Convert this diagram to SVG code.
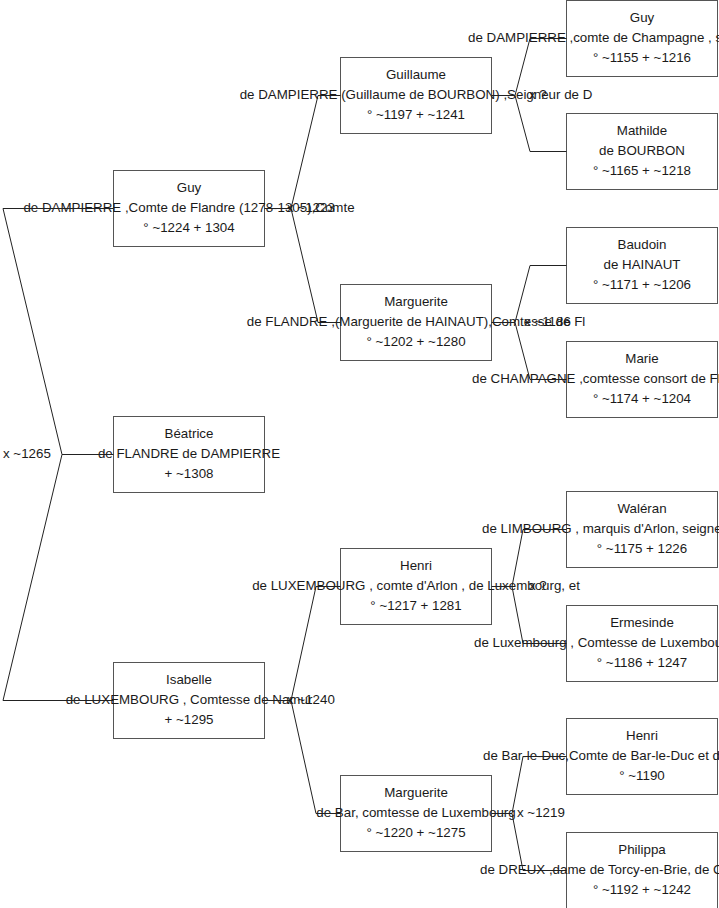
<svg xmlns="http://www.w3.org/2000/svg" width="719" height="908" viewBox="0 0 719 908">
<style>
rect.box{fill:#fff;stroke:#555;stroke-width:1}
text{font-family:"Liberation Sans",Arial,sans-serif;font-size:13.33px;fill:#1a1a1a}
.c{text-anchor:middle}
.conn path{fill:none;stroke:#222;stroke-width:1}
</style>
<rect width="719" height="908" fill="#fff"/>
<g id="guy1"><rect class="box" x="113.5" y="170.5" width="151" height="76"/>
<text class="c" x="189" y="192">Guy</text>
<text class="c" x="189" y="212">de DAMPIERRE ,Comte de Flandre (1278-1305),Comte</text>
<text class="c" x="189" y="232">° ~1224 + 1304</text></g>
<g id="beatrice"><rect class="box" x="113.5" y="416.5" width="151" height="76"/>
<text class="c" x="189" y="438">Béatrice</text>
<text class="c" x="189" y="458">de FLANDRE de DAMPIERRE</text>
<text class="c" x="189" y="478">+ ~1308</text></g>
<g id="isabelle"><rect class="box" x="113.5" y="662.5" width="151" height="76"/>
<text class="c" x="189" y="684">Isabelle</text>
<text class="c" x="189" y="704">de LUXEMBOURG , Comtesse de Namur</text>
<text class="c" x="189" y="724">+ ~1295</text></g>
<g id="guillaume"><rect class="box" x="340.5" y="57.5" width="151" height="76"/>
<text class="c" x="416" y="79">Guillaume</text>
<text class="c" x="416" y="99">de DAMPIERRE (Guillaume de BOURBON) ,Seigneur de D</text>
<text class="c" x="416" y="119">° ~1197 + ~1241</text></g>
<g id="marguerite1"><rect class="box" x="340.5" y="284.5" width="151" height="76"/>
<text class="c" x="416" y="306">Marguerite</text>
<text class="c" x="416" y="326">de FLANDRE ,(Marguerite de HAINAUT),Comtesse de Fl</text>
<text class="c" x="416" y="346">° ~1202 + ~1280</text></g>
<g id="henri1"><rect class="box" x="340.5" y="548.5" width="151" height="76"/>
<text class="c" x="416" y="570">Henri</text>
<text class="c" x="416" y="590">de LUXEMBOURG , comte d'Arlon , de Luxembourg, et</text>
<text class="c" x="416" y="610">° ~1217 + 1281</text></g>
<g id="marguerite2"><rect class="box" x="340.5" y="775.5" width="151" height="76"/>
<text class="c" x="416" y="797">Marguerite</text>
<text class="c" x="416" y="817">de Bar, comtesse de Luxembourg</text>
<text class="c" x="416" y="837">° ~1220 + ~1275</text></g>
<g id="guy3"><rect class="box" x="566.5" y="0.5" width="151" height="76"/>
<text class="c" x="642" y="22">Guy</text>
<text x="468" y="42">de DAMPIERRE ,comte de Champagne , s</text>
<text class="c" x="642" y="62">° ~1155 + ~1216</text></g>
<g id="mathilde"><rect class="box" x="566.5" y="113.5" width="151" height="76"/>
<text class="c" x="642" y="135">Mathilde</text>
<text class="c" x="642" y="155">de BOURBON</text>
<text class="c" x="642" y="175">° ~1165 + ~1218</text></g>
<g id="baudoin"><rect class="box" x="566.5" y="227.5" width="151" height="76"/>
<text class="c" x="642" y="249">Baudoin</text>
<text class="c" x="642" y="269">de HAINAUT</text>
<text class="c" x="642" y="289">° ~1171 + ~1206</text></g>
<g id="marie"><rect class="box" x="566.5" y="341.5" width="151" height="76"/>
<text class="c" x="642" y="363">Marie</text>
<text x="472" y="383">de CHAMPAGNE ,comtesse consort de Fl</text>
<text class="c" x="642" y="403">° ~1174 + ~1204</text></g>
<g id="waleran"><rect class="box" x="566.5" y="491.5" width="151" height="76"/>
<text class="c" x="642" y="513">Waléran</text>
<text x="482" y="533">de LIMBOURG , marquis d'Arlon, seigne</text>
<text class="c" x="642" y="553">° ~1175 + 1226</text></g>
<g id="ermesinde"><rect class="box" x="566.5" y="605.5" width="151" height="76"/>
<text class="c" x="642" y="627">Ermesinde</text>
<text x="474" y="647">de Luxembourg , Comtesse de Luxembou</text>
<text class="c" x="642" y="667">° ~1186 + 1247</text></g>
<g id="henri2"><rect class="box" x="566.5" y="718.5" width="151" height="76"/>
<text class="c" x="642" y="740">Henri</text>
<text x="483" y="760">de Bar-le-Duc,Comte de Bar-le-Duc et d</text>
<text class="c" x="642" y="780">° ~1190</text></g>
<g id="philippa"><rect class="box" x="566.5" y="832.5" width="151" height="76"/>
<text class="c" x="642" y="854">Philippa</text>
<text x="480" y="874">de DREUX ,dame de Torcy-en-Brie, de C</text>
<text class="c" x="642" y="894">° ~1192 + ~1242</text></g>
<g id="connectors" class="conn">
<path d="M113.5 454.5H62L3 208.5H113.5M62 454.5L3 700.5H113.5"/>
<path d="M264.5 208.5H291L318 95.5H340.5M291 208.5L318 322.5H340.5"/>
<path d="M264.5 700.5H291L316 586.5H340.5M291 700.5L316 813.5H340.5"/>
<path d="M491.5 95.5H515L530 38.5H566.5M515 95.5L530 151.5H566.5"/>
<path d="M491.5 322.5H515L530 265.5H566.5M515 322.5L530 379.5H566.5"/>
<path d="M491.5 586.5H512L523 529.5H566.5M512 586.5L523 643.5H566.5"/>
<path d="M491.5 813.5H512L523 756.5H566.5M512 813.5L523 870.5H566.5"/>
</g>
<g id="marriages">
<text x="3" y="458">x ~1265</text>
<text x="287" y="212">x ~1223</text>
<text x="287" y="704">x ~1240</text>
<text x="529" y="99">x ?</text>
<text x="524" y="326">x ~1186</text>
<text x="529" y="590">x ?</text>
<text x="517" y="817">x ~1219</text>
</g>
</svg>
